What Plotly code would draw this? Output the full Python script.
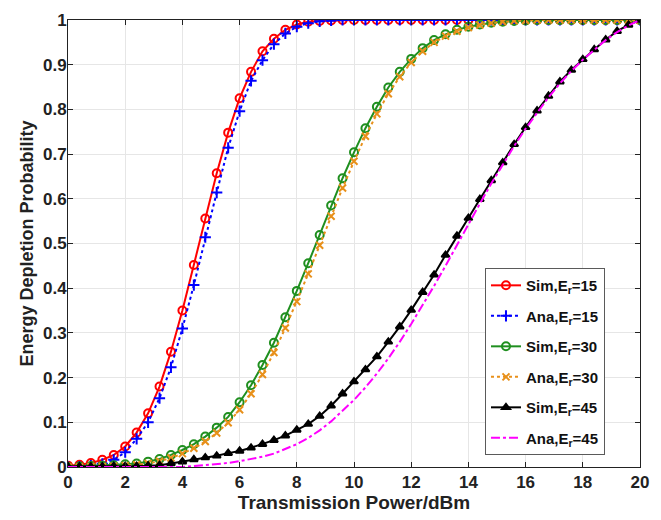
import plotly.graph_objects as go

x_power = [0, 0.4, 0.8, 1.2, 1.6, 2.0, 2.4, 2.8, 3.2, 3.6, 4.0, 4.4, 4.8, 5.2, 5.6, 6.0,
           6.4, 6.8, 7.2, 7.6, 8.0, 8.4, 8.8, 9.2, 9.6, 10.0, 10.4, 10.8, 11.2, 11.6, 12.0,
           12.4, 12.8, 13.2, 13.6, 14.0, 14.4, 14.8, 15.2, 15.6, 16.0, 16.4, 16.8, 17.2,
           17.6, 18.0, 18.4, 18.8, 19.2, 19.6, 20.0]

sim_15 = [0.003, 0.005, 0.009, 0.016, 0.027, 0.046, 0.077, 0.12, 0.18, 0.258, 0.35, 0.452,
          0.556, 0.657, 0.748, 0.825, 0.884, 0.93, 0.958, 0.978, 0.99, 0.996, 0.998, 0.999] + [1.0] * 27
ana_15 = [0.0, 0.001, 0.003, 0.007, 0.016, 0.033, 0.063, 0.10, 0.154, 0.223, 0.31, 0.407,
          0.514, 0.614, 0.714, 0.796, 0.864, 0.91, 0.946, 0.97, 0.985, 0.993, 0.997, 0.999] + [1.0] * 27
sim_30 = [0.0, 0.001, 0.002, 0.003, 0.004, 0.006, 0.008, 0.012, 0.018, 0.027, 0.038, 0.051,
          0.068, 0.088, 0.112, 0.145, 0.183, 0.228, 0.278, 0.335, 0.394, 0.456, 0.519, 0.585,
          0.646, 0.704, 0.758, 0.806, 0.849, 0.884, 0.913, 0.937, 0.955, 0.968, 0.978, 0.985,
          0.99, 0.994, 0.996, 0.998, 0.999] + [1.0] * 10
ana_30 = [0.0, 0.0, 0.001, 0.001, 0.002, 0.003, 0.005, 0.008, 0.013, 0.02, 0.03, 0.042,
          0.057, 0.076, 0.099, 0.128, 0.164, 0.207, 0.256, 0.311, 0.37, 0.432, 0.496, 0.561,
          0.624, 0.684, 0.74, 0.79, 0.835, 0.873, 0.905, 0.93, 0.95, 0.964, 0.975, 0.983,
          0.989, 0.993, 0.996, 0.998, 0.999] + [1.0] * 10
sim_45 = [0.001, 0.001, 0.001, 0.001, 0.002, 0.002, 0.002, 0.003, 0.004, 0.008, 0.012, 0.017,
          0.021, 0.025, 0.031, 0.036, 0.043, 0.051, 0.06, 0.07, 0.083, 0.096, 0.114, 0.137,
          0.164, 0.191, 0.218, 0.247, 0.28, 0.314, 0.351, 0.391, 0.43, 0.474, 0.517, 0.557,
          0.599, 0.641, 0.681, 0.722, 0.76, 0.797, 0.83, 0.862, 0.888, 0.912, 0.934, 0.956,
          0.975, 0.989, 1.0]
ana_45 = [0.0] * 11 + [0.002, 0.004, 0.006, 0.009, 0.013, 0.018, 0.023, 0.03, 0.04, 0.051,
          0.065, 0.082, 0.102, 0.125, 0.15, 0.178, 0.209, 0.243, 0.28, 0.32, 0.362, 0.405,
          0.45, 0.497, 0.543, 0.589, 0.634, 0.677, 0.718, 0.757, 0.793, 0.827, 0.858, 0.886,
          0.911, 0.934, 0.955, 0.973, 0.988, 1.0]

x_ticks = [0, 2, 4, 6, 8, 10, 12, 14, 16, 18, 20]
x_tick_text = ["0", "2", "4", "6", "8", "10", "12", "14", "16", "18", "20"]
y_ticks = [0, 0.1, 0.2, 0.3, 0.4, 0.5, 0.6, 0.7, 0.8, 0.9, 1]
y_tick_text = ["0", "0.1", "0.2", "0.3", "0.4", "0.5", "0.6", "0.7", "0.8", "0.9", "1"]

FONT = "Liberation Sans, Arial, sans-serif"
INK = "#222222"

series = [
    ("Sim,E<sub>r</sub>=15", sim_15, "#ff0000", "solid", "circle-open", 8),
    ("Ana,E<sub>r</sub>=15", ana_15, "#0000ff", "dot", "cross-thin-open", 8),
    ("Sim,E<sub>r</sub>=30", sim_30, "#1f8f1f", "solid", "circle-open", 8),
    ("Ana,E<sub>r</sub>=30", ana_30, "#e8901a", "dot", "x-thin-open", 7),
    ("Sim,E<sub>r</sub>=45", sim_45, "#000000", "solid", "triangle-up", 7),
    ("Ana,E<sub>r</sub>=45", ana_45, "#ff00ff", "dashdot", None, 0),
]

fig = go.Figure()
for i, (name, ys, color, dash, sym, size) in enumerate(series):
    if sym:
        mode = "lines+markers"
        marker = dict(symbol=sym, size=size, color=color, line=dict(color=color, width=2))
    else:
        mode = "lines"
        marker = None
    fig.add_trace(go.Scatter(
        x=x_power, y=ys, mode=mode, name="<b>" + name + "</b>",
        line=dict(color=color, width=2, dash=dash),
        marker=marker, legendgroup=f"g{i}",
    ))

axis_common = dict(
    showline=True, linecolor=INK, linewidth=1, mirror="allticks",
    ticks="inside", ticklen=5, tickcolor=INK, automargin=False,
    showgrid=True, gridcolor="#e6e6e6", gridwidth=1, zeroline=False,
    tickfont=dict(family=FONT, size=17, color=INK, weight="bold"),
)

fig.update_xaxes(
    range=[0, 20], tickmode="array", tickvals=x_ticks,
    ticktext=["<b>" + t + "</b>" for t in x_tick_text],
    title=dict(text="<b>Transmission Power/dBm</b>", standoff=2,
               font=dict(family=FONT, size=19, color=INK, weight="bold")),
    **axis_common,
)
fig.update_yaxes(
    range=[0, 1], tickmode="array", tickvals=y_ticks,
    ticktext=["<b>" + t + "</b>" for t in y_tick_text],
    ticklabelstandoff=-3,
    title=dict(text="<b>Energy Depletion Probability</b>", standoff=4,
               font=dict(family=FONT, size=18, color=INK, weight="bold")),
    **axis_common,
)

# the page body has an 8px default margin, so the figure is sized to fit inside it
fig.update_layout(
    width=653, height=512,
    margin=dict(l=60, r=21, t=12, b=53),
    paper_bgcolor="white", plot_bgcolor="white",
    font=dict(family=FONT, color=INK),
    legend=dict(
        x=0.729, y=0.445, xanchor="left", yanchor="top",
        bgcolor="white", bordercolor="#5a5a5a", borderwidth=1,
        font=dict(family=FONT, size=15, color="#111111"),
        tracegroupgap=8, itemwidth=30,
    ),
)

fig.write_html("out.html")
